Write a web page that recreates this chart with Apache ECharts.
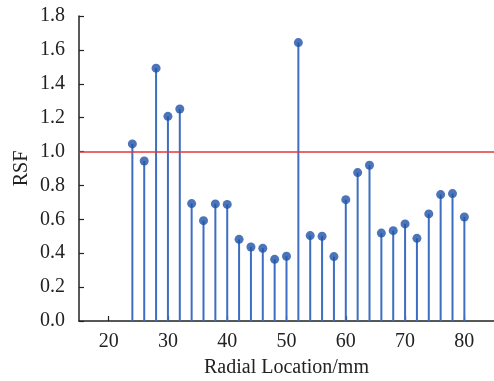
<!DOCTYPE html>
<html>
<head>
<meta charset="utf-8">
<script src="https://cdn.jsdelivr.net/npm/echarts@6/dist/echarts.min.js"></script>
<style>
  html, body { margin: 0; padding: 0; background: #fff; }
  #chart { width: 494px; height: 381px; }
</style>
</head>
<body>
<div id="chart"></div>
<script>
// radial positions (mm) and RSF values
const positions = [24, 26, 28, 30, 32, 34, 36, 38, 40, 42, 44, 46, 48, 50, 52,
  54, 56, 58, 60, 62, 64, 66, 68, 70, 72, 74, 76, 78, 80];
const rsf = [1.045, 0.944, 1.492, 1.208, 1.251, 0.693, 0.592, 0.691, 0.688, 0.482,
  0.437, 0.429, 0.364, 0.382, 1.643, 0.504, 0.500, 0.380, 0.716, 0.876,
  0.919, 0.519, 0.533, 0.573, 0.488, 0.632, 0.746, 0.752, 0.614];
const xTicks = [20, 30, 40, 50, 60, 70, 80];
const refLevel = 1.0;

const pts = positions.map((p, i) => [p, rsf[i]]);
const font = 'Liberation Serif';

const chart = echarts.init(document.getElementById('chart'));
chart.setOption({
  animation: false,
  textStyle: {fontFamily: font},
  // v6 shrinks the grid to fit labels unless told not to
  grid: {left: 79, top: 16, right: 0, bottom: 60, outerBoundsMode: 'none', containLabel: false},
  xAxis: {
    type: 'value',
    min: 15,
    max: 85,
    name: 'Radial Location/mm',
    nameLocation: 'middle',
    nameGap: 37,
    nameMoveOverlap: false,
    nameTextStyle: {fontSize: 20, color: '#222', fontFamily: font},
    axisLine: {lineStyle: {color: '#222', width: 1.5}},
    axisTick: {show: true, inside: true, length: 5, customValues: xTicks,
      lineStyle: {color: '#222', width: 1.2}},
    axisLabel: {fontSize: 20, color: '#222', margin: 11, fontFamily: font,
      customValues: xTicks},
    splitLine: {show: false}
  },
  yAxis: {
    type: 'value',
    min: 0,
    max: 1.8,
    interval: 0.2,
    name: 'RSF',
    nameLocation: 'middle',
    nameGap: 47,
    nameMoveOverlap: false,
    nameTextStyle: {fontSize: 20, color: '#222', fontFamily: font},
    axisLine: {show: true, lineStyle: {color: '#222', width: 1.5}},
    axisTick: {show: true, inside: true, length: 5,
      lineStyle: {color: '#222', width: 1.2}},
    axisLabel: {fontSize: 20, color: '#222', margin: 14, fontFamily: font,
      formatter: v => v.toFixed(1)},
    splitLine: {show: false}
  },
  series: [
    {
      type: 'bar',
      data: pts,
      barWidth: 2,
      itemStyle: {color: '#3d6ec2'}
    },
    {
      type: 'scatter',
      data: pts,
      symbolSize: 9,
      itemStyle: {color: '#1f52a8'},
      z: 3,
      markLine: {
        silent: true,
        symbol: 'none',
        label: {show: false},
        emphasis: {disabled: true},
        itemStyle: {color: '#e0393b'},
        lineStyle: {color: '#e0393b', width: 1.5, type: 'solid', opacity: 1},
        data: [{yAxis: refLevel}]
      }
    }
  ]
});
</script>
</body>
</html>
